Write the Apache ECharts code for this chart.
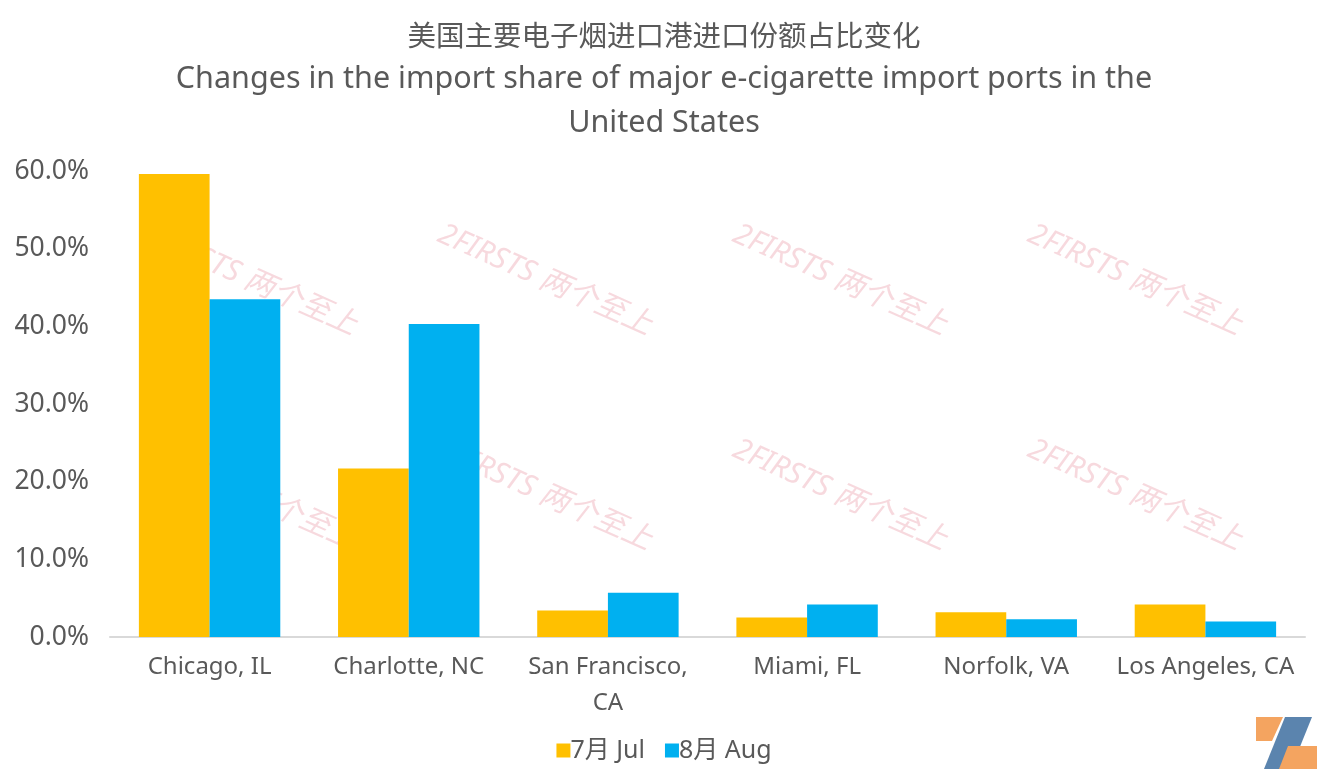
<!DOCTYPE html>
<html>
<head>
<meta charset="utf-8">
<script src="https://cdn.jsdelivr.net/npm/echarts@6/dist/echarts.min.js"></script>
<style>html,body{margin:0;padding:0;background:#fff;}#c{width:1328px;height:782px;}</style>
</head>
<body>
<div id="c"></div>
<script>
var categories = ['Chicago, IL', 'Charlotte, NC', 'San Francisco, CA', 'Miami, FL', 'Norfolk, VA', 'Los Angeles, CA'];
var julValues = [59.6, 21.7, 3.4, 2.5, 3.2, 4.2];
var augValues = [43.5, 40.3, 5.7, 4.2, 2.3, 2.0];
var seriesNames = ['7月 Jul', '8月 Aug'];
var yTicks = [0, 10, 20, 30, 40, 50, 60];

var font = '"Noto Sans", "Noto Sans CJK SC", sans-serif';
var textColor = '#595959';

var wmPos = [[250, 280], [545, 280], [840, 280], [1135, 280], [250, 495], [545, 495], [840, 495], [1135, 495]];
var graphics = wmPos.map(function (p) {
  return {
    type: 'text', x: p[0], y: p[1], rotation: -0.42, z: 0, silent: true,
    style: { text: '2FIRSTS 两个至上', font: 'italic 30px ' + font, fill: 'rgba(225,120,135,0.28)', textAlign: 'center', textVerticalAlign: 'middle' }
  };
});
// logo bottom-right
graphics.push({ type: 'polygon', z: 10, shape: { points: [[1256, 717], [1283, 717], [1272, 741], [1256, 741]] }, style: { fill: '#F4A460' } });
graphics.push({ type: 'polygon', z: 10, shape: { points: [[1285, 717], [1312, 717], [1291, 769], [1264, 769]] }, style: { fill: '#5B84AE' } });
graphics.push({ type: 'polygon', z: 10, shape: { points: [[1288, 746], [1317, 746], [1317, 769], [1279, 769]] }, style: { fill: '#F4A460' } });

var chart = echarts.init(document.getElementById('c'));
chart.setOption({
  backgroundColor: '#fff',
  animation: false,
  textStyle: { fontFamily: font },
  title: [
    { text: '美国主要电子烟进口港进口份额占比变化', left: 'center', top: 19, textStyle: { fontSize: 28.5, fontWeight: 'normal', color: textColor, fontFamily: font } },
    { text: 'Changes in the import share of major e-cigarette import ports in the', left: 'center', top: 59, textStyle: { fontSize: 30.5, fontWeight: 'normal', color: textColor, fontFamily: font } },
    { text: 'United States', left: 'center', top: 103, textStyle: { fontSize: 30.5, fontWeight: 'normal', color: textColor, fontFamily: font } }
  ],
  legend: {
    data: seriesNames, bottom: 14, left: 'center', itemWidth: 14, itemHeight: 14, itemGap: 20,
    icon: 'rect',
    textStyle: { fontSize: 25, color: textColor, fontFamily: font, padding: [0, 0, 0, -5] }
  },
  grid: { left: 110, right: 23, top: 171, bottom: 145 },
  xAxis: {
    type: 'category', data: categories,
    axisLine: { lineStyle: { color: '#D9D9D9', width: 2 } },
    axisTick: { show: false },
    axisLabel: {
      fontSize: 24, color: textColor, margin: 12, interval: 0, lineHeight: 36,
      formatter: function (v) { return v === 'San Francisco, CA' ? 'San Francisco,\nCA' : v; }
    }
  },
  yAxis: {
    type: 'value', min: 0, max: 60, interval: 10,
    axisLine: { show: false }, axisTick: { show: false }, splitLine: { show: false },
    axisLabel: { fontSize: 26.5, color: textColor, margin: 21, formatter: function (v) { return v.toFixed(1) + '%'; } }
  },
  series: [
    { name: seriesNames[0], type: 'bar', data: julValues, itemStyle: { color: '#FFC000' }, barGap: '0%', barCategoryGap: '29%', z: 2 },
    { name: seriesNames[1], type: 'bar', data: augValues, itemStyle: { color: '#00B0F0' }, z: 2 }
  ],
  graphic: graphics
});
</script>
</body>
</html>
